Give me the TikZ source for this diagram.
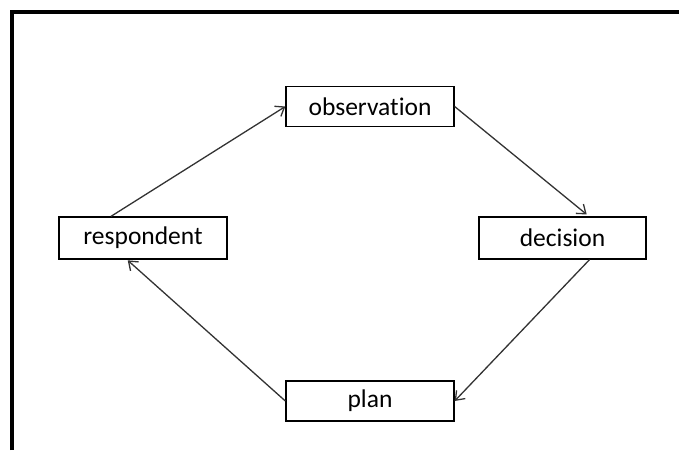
\documentclass[tikz,border=0pt]{standalone}
\usepackage{fontspec}
\setmainfont{Carlito}[Ligatures=NoCommon]
\usetikzlibrary{arrows.meta}
\begin{document}
\begin{tikzpicture}[x=1pt,y=-1pt,
  box/.style={draw=black,line width=1.3pt,fill=white,inner sep=0pt,
    font=\fontsize{25.5}{30}\selectfont,text=black},
  arr/.style={draw=black!80,line width=1.3pt,
    -{Straight Barb[length=8pt,width=12pt,line width=1.3pt]}},
  frame/.style={line width=4pt,black}]
\useasboundingbox (0,0) rectangle (679,450);
% outer frame (left and top edges)
\draw[frame] (12,450) -- (12,12) -- (679,12);
% stages of the cycle
\node[box,minimum width=168pt,minimum height=40pt] (obs)  at (370,106.5) {observation};
\node[box,minimum width=168pt,minimum height=42pt] (resp) at (143,238)   {respondent};
\node[box,minimum width=167pt,minimum height=42pt] (dec)  at (562.5,238) {decision};
\node[box,minimum width=168pt,minimum height=40pt] (plan) at (370,401)   {plan};
% connectors
\draw[arr] ([xshift=-32pt]resp.north) -- (obs.west);
\draw[arr,shorten >=3pt] (obs.east) -- ([xshift=26.5pt]dec.north);
\draw[arr] ([xshift=27pt]dec.south) -- (plan.east);
\draw[arr,shorten >=1pt] (plan.west) -- ([xshift=-16pt]resp.south);
\end{tikzpicture}
\end{document}
